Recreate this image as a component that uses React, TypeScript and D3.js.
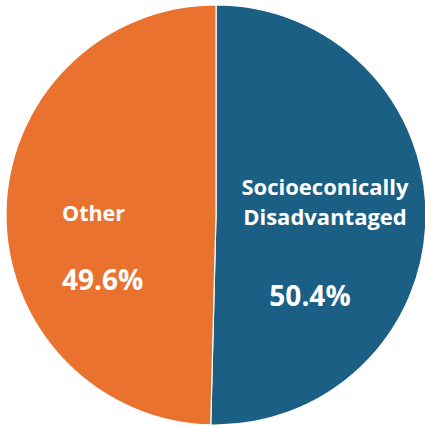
import React from "react";
import * as d3 from "d3";

const categories = ["Socioeconically Disadvantaged", "Other"];
const values = [50.4, 49.6];
const labelLines = [["Socioeconically", "Disadvantaged"], ["Other"]];
const colors = ["#1B5F84", "#E9722F"];

const W = 425;
const H = 428;

export default function App() {
  const cx = 216;
  const cy = 215;
  const r = 210;
  const pie = d3.pie<number>().sort(null).startAngle(0).endAngle(2 * Math.PI);
  const arcs = pie(values);
  const arc = d3.arc<d3.PieArcDatum<number>>().innerRadius(0).outerRadius(r);
  const labelArc = d3.arc<d3.PieArcDatum<number>>().innerRadius(r * 0.5).outerRadius(r * 0.5);
  const font = "'Open Sans', 'DejaVu Sans', sans-serif";

  // per-slice label tweaks relative to centroid
  const nameOffsets = [
    { dx: 4, dy: -21, anchor: "middle", size: 22 },
    { dx: -49, dy: 7, anchor: "start", size: 21.5 },
  ];
  const pctOffsets = [
    { dx: -11, dy: 90, anchor: "middle" },
    { dx: -49, dy: 76, anchor: "start" },
  ];

  return (
    <svg width={W} height={H} style={{ position: "absolute", left: 0, top: 0, background: "#fff" }}>
      <g transform={`translate(${cx},${cy})`}>
        {arcs.map((a, i) => (
          <path key={categories[i]} d={arc(a) || ""} fill={colors[i]} stroke="#ffffff" strokeWidth={1.2} />
        ))}
        {arcs.map((a, i) => {
          const [x, y] = labelArc.centroid(a);
          const no = nameOffsets[i];
          const po = pctOffsets[i];
          return (
            <g key={"l" + i} fill="#ffffff" fontFamily={font} fontWeight={700}>
              {labelLines[i].map((line, j) => (
                <text key={j} x={x + no.dx} y={y + no.dy + j * 30} textAnchor={no.anchor} fontSize={no.size}>
                  {line}
                </text>
              ))}
              <text x={x + po.dx} y={y + po.dy} textAnchor={po.anchor} fontSize={28}>
                {values[i].toFixed(1)}%
              </text>
            </g>
          );
        })}
      </g>
    </svg>
  );
}
